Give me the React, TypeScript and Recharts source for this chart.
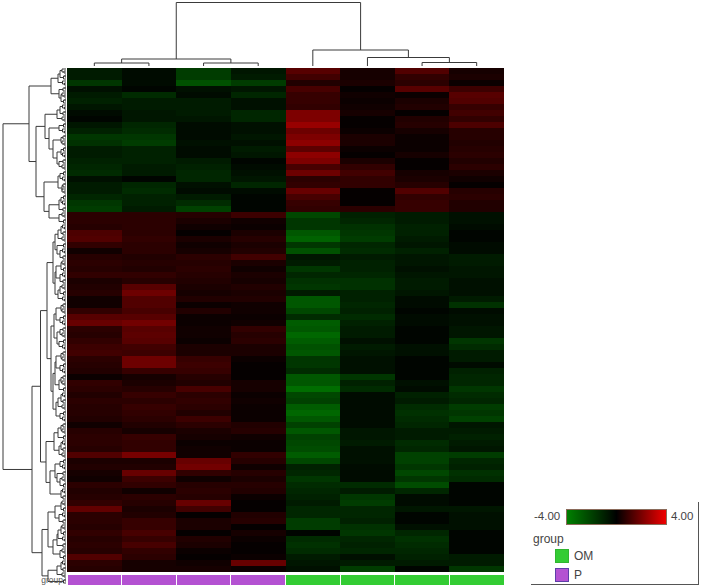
import { ScatterChart, Scatter, XAxis, YAxis } from "recharts"

// expression values, one list per sample, top to bottom along the row dendrogram order
const sampleP1 = [
    -0.5, -0.5, -1.0, -0.3, -0.5, -0.6, -0.4, -0.2, -0.1, -0.4, -0.6, -1.0, -0.9, -0.5, -0.5, -0.6, -0.7, -0.8, -0.3, -0.5, -0.5, -0.7, -1.0, -1.1,
    0.8, 0.8, 0.7, 1.4, 1.5, 0.9, 0.3, 0.7, 0.8, 0.7, 0.9, 0.5, 0.6, 0.7, 0.3, 0.3, 0.9, 1.6, 1.9, 0.8,
    0.7, 0.9, 1.1, 1.2, 0.8, 0.7, 0.6, 0.2, 0.9, 0.8, 0.6, 0.8, 0.7, 0.7, 0.6, 0.3, 0.7, 0.8, 0.8, 0.7,
    1.5, 0.5, 0.6, 0.4, 0.3, 0.8, 0.6, 0.7, 0.9, 1.8, 0.8, 0.8, 0.7, 0.9, 0.7, 0.8, 0.7, 1.5, 0.8, 0.7,
]
const sampleP2 = [
    -0.2, -0.2, -0.2, -0.1, -0.8, -0.5, -0.5, -0.4, -0.4, -0.7, -0.8, -1.0, -1.1, -0.6, -0.6, -0.6, -0.5, -0.5, -0.1, -0.7, -0.8, -0.6, -0.6, -0.5,
    0.8, 0.8, 0.8, 0.8, 0.9, 0.8, 0.8, 0.6, 0.7, 0.6, 0.9, 0.7, 1.6, 2.0, 1.5, 1.5, 1.3, 1.6, 2.1, 1.6,
    1.7, 1.6, 1.2, 1.1, 2.0, 2.0, 1.0, 0.4, 0.5, 0.7, 1.0, 0.8, 1.0, 0.9, 0.8, 0.6, 0.4, 1.0, 0.9, 0.9,
    2.2, 0.5, 0.6, 1.9, 1.1, 0.9, 0.3, 0.8, 0.7, 0.5, 0.6, 1.0, 1.0, 1.3, 1.0, 1.3, 0.9, 0.8, 0.4, 0.4,
]
const sampleP3 = [
    -1.1, -1.1, -1.5, -0.3, -0.2, -0.5, -0.5, -0.5, -0.4, -0.2, -0.2, -0.2, -0.3, -0.2, -0.2, -0.5, -0.6, -0.7, -0.7, -0.3, -0.2, -0.5, -0.8, -1.2,
    0.7, 0.5, 0.3, 0.1, 0.5, 0.3, 0.4, 0.8, 0.7, 0.8, 0.7, 0.6, 0.5, 0.4, 0.6, 0.2, 0.6, 0.2, 0.2, 0.3,
    0.3, 0.2, 0.5, 0.5, 1.0, 1.1, 1.0, 0.7, 0.6, 1.3, 0.8, 0.9, 0.8, 0.6, 1.1, 0.8, 0.5, 0.4, 0.2, 0.3,
    0.3, 1.9, 2.1, 0.9, 0.3, 0.7, 0.8, 0.7, 1.9, 1.2, 0.1, 0.5, 0.5, 0.1, 0.6, 0.5, 0.2, 0.1, 0.3, 0.4,
]
const sampleP4 = [
    -0.4, -0.5, -1.1, -0.4, -0.7, -0.3, -0.3, -0.7, -0.7, -0.3, -0.3, -0.4, -0.3, -0.5, -0.4, -0.1, -0.2, -0.3, -0.4, -0.7, -0.2, -0.1, -0.1, -0.1,
    1.1, 0.3, 0.2, 0.5, 0.7, 0.5, 0.6, 1.2, 0.5, 0.3, 0.5, 0.4, 0.6, 0.5, 0.6, 0.3, 0.3, 0.2, 0.3, 0.9,
    0.7, 0.8, 0.5, 0.5, 0.2, 0.1, 0.1, 0.1, 0.4, 0.4, 0.2, 0.3, 0.2, 0.2, 0.2, 0.6, 0.7, 0.3, 0.2, 0.2,
    0.9, 0.7, 0.3, 0.7, 0.5, 0.7, 0.6, 0.2, 0.1, 0.1, 0.6, 0.7, 0.1, 0.4, 0.2, 0.1, 0.1, 0.2, 1.9, 0.2,
]
const sampleOM1 = [
    1.6, 1.2, 0.6, 1.3, 1.0, 1.0, 0.9, 2.3, 2.3, 2.8, 2.0, 2.3, 2.6, 1.7, 2.6, 2.3, 1.3, 2.0, 0.8, 0.9, 1.9, 1.3, 1.0, 0.9,
    -1.3, -1.0, -1.0, -1.6, -1.8, -1.0, -1.5, -0.4, -0.5, -1.0, -0.7, -0.9, -1.0, -0.5, -1.6, -1.6, -1.3, -0.8, -1.7, -1.6,
    -1.9, -1.7, -1.5, -1.6, -1.0, -1.0, -0.8, -1.6, -1.6, -2.0, -1.3, -1.2, -1.7, -1.9, -1.6, -1.2, -1.6, -1.2, -1.3, -1.4,
    -1.7, -1.3, -0.6, -0.7, -1.0, -0.8, -0.7, -0.6, -0.5, -0.7, -0.7, -1.1, -1.1, -0.1, -0.8, -0.9, -0.8, -0.5, -0.4, -0.3,
]
const sampleOM2 = [
    0.4, 0.4, 0.5, 0.1, 0.3, 0.2, 0.3, 0.4, 0.1, 0.1, 0.2, 0.5, 0.5, 0.2, 0.1, 0.5, 0.9, 1.2, 0.9, 0.9, 0.1, 0.1, 0.1, 0.8,
    -0.6, -0.7, -0.9, -1.0, -1.1, -0.7, -0.8, -0.5, -0.6, -0.6, -0.7, -0.9, -0.9, -0.6, -0.6, -0.7, -0.6, -0.8, -0.6, -0.5,
    -0.5, -0.3, -0.5, -0.4, -0.3, -0.3, -0.3, -1.0, -0.6, -0.8, -0.2, -0.2, -0.2, -0.2, -0.2, -0.2, -0.4, -0.4, -0.5, -0.3,
    -0.3, -0.3, -0.2, -0.2, -0.2, -0.8, -0.5, -1.0, -1.1, -0.7, -0.7, -0.6, -0.9, -1.0, -0.7, -0.6, -0.7, -0.3, -0.5, -1.1,
]
const sampleOM3 = [
    1.5, 0.9, 0.8, 1.6, 0.2, 0.5, 0.6, 0.1, 0.6, 0.7, 0.4, 0.2, 0.2, 0.2, 0.4, 0.1, 0.1, 0.4, 0.5, 0.7, 1.5, 0.9, 1.0, 1.0,
    -0.5, -0.5, -0.6, -0.6, -0.5, -0.4, -0.6, -0.4, -0.4, -0.3, -0.4, -0.5, -0.5, -0.4, -0.2, -0.2, -0.1, -0.2, -0.2, -0.1,
    -0.1, -0.1, -0.3, -0.3, -0.1, -0.1, -0.1, -0.1, -0.3, -0.2, -0.6, -0.5, -0.8, -0.9, -0.8, -0.7, -0.5, -0.5, -0.8, -0.7,
    -1.2, -1.2, -1.0, -1.3, -1.0, -1.4, -0.7, -0.2, -0.2, -0.4, -0.1, -0.1, -0.3, -0.7, -0.9, -0.8, -0.7, -0.6, -0.5, -0.1,
]
const sampleOM4 = [
    0.4, 0.5, 0.2, 1.1, 1.6, 1.5, 1.0, 1.2, 0.9, 1.4, 0.7, 0.7, 0.6, 0.7, 0.8, 0.6, 0.8, 0.5, 0.3, 0.1, 0.7, 0.8, 0.6, 0.6,
    -0.3, -0.3, -0.2, -0.1, -0.1, -0.2, -0.2, -0.5, -0.5, -0.4, -0.4, -0.3, -0.3, -0.3, -0.5, -0.9, -0.2, -0.3, -0.3, -0.4,
    -0.4, -1.0, -0.8, -0.5, -0.5, -0.2, -0.6, -0.7, -0.7, -1.0, -0.8, -0.7, -1.1, -1.0, -1.2, -0.4, -0.5, -0.6, -0.5, -0.4,
    -1.1, -0.7, -0.6, -0.9, -0.8, -0.1, -0.1, -0.1, -0.1, -0.4, -0.3, -0.3, -0.3, -0.1, -0.1, -0.1, -0.1, -0.5, -0.5, -1.0,
]
const samples = [sampleP1, sampleP2, sampleP3, sampleP4, sampleOM1, sampleOM2, sampleOM3, sampleOM4]
const sampleGroups = ["P", "P", "P", "P", "OM", "OM", "OM", "OM"]

// dendrograms: [merge distance, child, child], 0 is a leaf
type TreeNode = 0 | [number, TreeNode, TreeNode]

const p3: TreeNode = [6, 0, 0]
const p4: TreeNode = [7, 0, 0]
const p5: TreeNode = [8, 0, 0]
const t6: TreeNode = [9, p3, 0]
const t7: TreeNode = [10, 0, p4]
const q8: TreeNode = [11, p3, p4]

const topTree: TreeNode = [65.5, [9, [5, 0, 0], [5, 0, 0]], [18, 0, [10.5, 0, [5.5, 0, 0]]]]

const clusterUp: TreeNode = [38,
    [16, [9, p4, 0], [8, 0, p3]],
    [31,
        [22, [10, p4, 0], [18, [8, 0, 0], [14, [6, 0, 0], [10, p3, p5]]]],
        [23, [9, p4, [5, 0, 0]], [18, [8, p3, 0], p5]],
    ],
]
const clusterDown: TreeNode = [35,
    [26.5,
        [20,
            [14, [12, t6, t7], [12, q8, [9, p4, 0]]],
            [16, [13, q8, [10, p4, p5]], [14, [12, q8, [8, p3, 0]], [11, t6, p4]]],
        ],
        [21, [13, t6, [8, p3, 0]], [17, [12, p4, t7], p3]],
    ],
    [25,
        [19, [12, p3, p5], [14, [10, t6, 0], p4]],
        [19, [10, p3, 0], 0],
    ],
]
const leftTree: TreeNode = [64, clusterUp, clusterDown]

// the genes inside one heatmap row, merged very close to the leaves
const rowTwigs: TreeNode[] = [
    [4, [2, 0, 0], 0],
    [5, 0, [3, 0, 0]],
    [3.5, [2, 0, 0], 0],
    [4.5, 0, [2.5, 0, 0]],
]
const TWIG_LEAVES = 3

const legendMin = "-4.00"
const legendMax = "4.00"
const groupColors: Record<string, string> = { OM: "#33cc33", P: "#b452d2" }
const groupBorders: Record<string, string> = { OM: "#2fb52f", P: "#5d3fa8" }

const CHART_W = 702
const CHART_H = 588
const HEAT_X = 67
const HEAT_Y = 68
const COL_W = 54.625
const ROW_H = 6
const LEAF_DIST = 1
const GROUP_ROW = 85.33
const GROUP_H = 10
const COLOR_SAT = 4.7 // the cells never get as vivid as the legend ends

const xDomain = [-HEAT_X / COL_W, (CHART_W - HEAT_X) / COL_W]
const yDomain = [-HEAT_Y / ROW_H, (CHART_H - HEAT_Y) / ROW_H]

function heatColor(v: number) {
    const c = Math.round(Math.min(Math.abs(v) / COLOR_SAT, 1) * 255)
    return v >= 0 ? `rgb(${c},0,0)` : `rgb(0,${c},0)`
}

const heatCells = samples.flatMap((values, col) =>
    values.map((value, row) => ({ x: col + 0.5, y: row + 0.5, value }))
)
const groupCells = sampleGroups.map((group, col) => ({ x: col + 0.5, y: GROUP_ROW, group }))

type Pt = { x: number; y: number }

function withTwigs(node: TreeNode, counter = { n: 0 }): TreeNode {
    if (node === 0) {
        counter.n += 1
        return rowTwigs[counter.n % rowTwigs.length]
    }
    return [node[0], withTwigs(node[1], counter), withTwigs(node[2], counter)]
}

// walks a tree and returns one 4-point bracket for each merge
function brackets(tree: TreeNode, leafStep: number, toPoint: (pos: number, dist: number) => Pt) {
    const out: Pt[][] = []
    let next = 0
    const walk = (node: TreeNode): { pos: number; dist: number } => {
        if (node === 0) {
            next += 1
            return { pos: (next - 0.5) * leafStep, dist: LEAF_DIST }
        }
        const a = walk(node[1])
        const b = walk(node[2])
        const dist = node[0]
        out.push([
            toPoint(a.pos, a.dist),
            toPoint(a.pos, dist),
            toPoint(b.pos, dist),
            toPoint(b.pos, b.dist),
        ])
        return { pos: (a.pos + b.pos) / 2, dist }
    }
    walk(tree)
    return out
}

const topBrackets = brackets(topTree, 1, (pos, dist) => ({ x: pos, y: -(dist + (dist === LEAF_DIST ? 1 : 0)) / ROW_H }))
const leftBrackets = brackets(withTwigs(leftTree), 1 / TWIG_LEAVES, (pos, dist) => ({ x: -dist / COL_W, y: pos }))

function HeatCell(props: any) {
    const { cx, cy, payload } = props
    return (
        <rect
            x={cx - COL_W / 2}
            y={cy - ROW_H / 2}
            width={COL_W}
            height={ROW_H}
            fill={heatColor(payload.value)}
            shapeRendering="crispEdges"
        />
    )
}

function GroupCell(props: any) {
    const { cx, cy, payload } = props
    return (
        <rect
            x={cx - COL_W / 2 + 0.5}
            y={cy - GROUP_H / 2}
            width={COL_W - 1}
            height={GROUP_H}
            fill={groupColors[payload.group]}
            shapeRendering="crispEdges"
        />
    )
}

const noMark = () => <g />

const textStyle = {
    position: "absolute" as const,
    fontFamily: "'Liberation Sans', Arial, sans-serif",
    color: "#444",
    lineHeight: 1,
    whiteSpace: "nowrap" as const,
}

function Swatch({ group, top }: { group: string; top: number }) {
    return (
        <>
            <div
                style={{
                    position: "absolute",
                    left: 555,
                    top,
                    width: 12,
                    height: 12,
                    background: groupColors[group],
                    border: `1px solid ${groupBorders[group]}`,
                }}
            />
            <span style={{ ...textStyle, left: 574, top: top + 1, fontSize: 12 }}>{group}</span>
        </>
    )
}

export default function App() {
    return (
        <div style={{ position: "absolute", left: 0, top: 0, width: CHART_W, height: CHART_H, background: "#fff", overflow: "hidden" }}>
            <ScatterChart width={CHART_W} height={CHART_H} margin={{ top: 0, right: 0, bottom: 0, left: 0 }}>
                <XAxis type="number" dataKey="x" domain={xDomain} hide />
                <YAxis type="number" dataKey="y" domain={yDomain} reversed hide />
                <Scatter data={heatCells} shape={HeatCell} isAnimationActive={false} />
                <Scatter data={groupCells} shape={GroupCell} isAnimationActive={false} />
                {[...topBrackets, ...leftBrackets].map((points, i) => (
                    <Scatter
                        key={i}
                        data={points}
                        line={{ stroke: "#3a3a3a", strokeWidth: 1 }}
                        shape={noMark}
                        isAnimationActive={false}
                    />
                ))}
            </ScatterChart>

            {/* small frame and legend at the lower right */}
            <div style={{ position: "absolute", left: 531, top: 502, width: 167, height: 82, borderRight: "1px solid #555", borderBottom: "1px solid #555" }} />
            <span style={{ ...textStyle, left: 534, top: 511, fontSize: 11.5 }}>{legendMin}</span>
            <div
                style={{
                    position: "absolute",
                    left: 566,
                    top: 509,
                    width: 99,
                    height: 14,
                    background: "linear-gradient(90deg, #008000 0%, #000 50%, #f00000 100%)",
                    border: "1px solid #8a6a5a",
                }}
            />
            <span style={{ ...textStyle, left: 671, top: 511, fontSize: 11.5 }}>{legendMax}</span>
            <span style={{ ...textStyle, left: 533, top: 533, fontSize: 12 }}>group</span>
            <Swatch group="OM" top={549} />
            <Swatch group="P" top={568} />
            <span style={{ ...textStyle, right: CHART_W - 63, top: 576, fontSize: 8.5, color: "#555" }}>group</span>
        </div>
    )
}
